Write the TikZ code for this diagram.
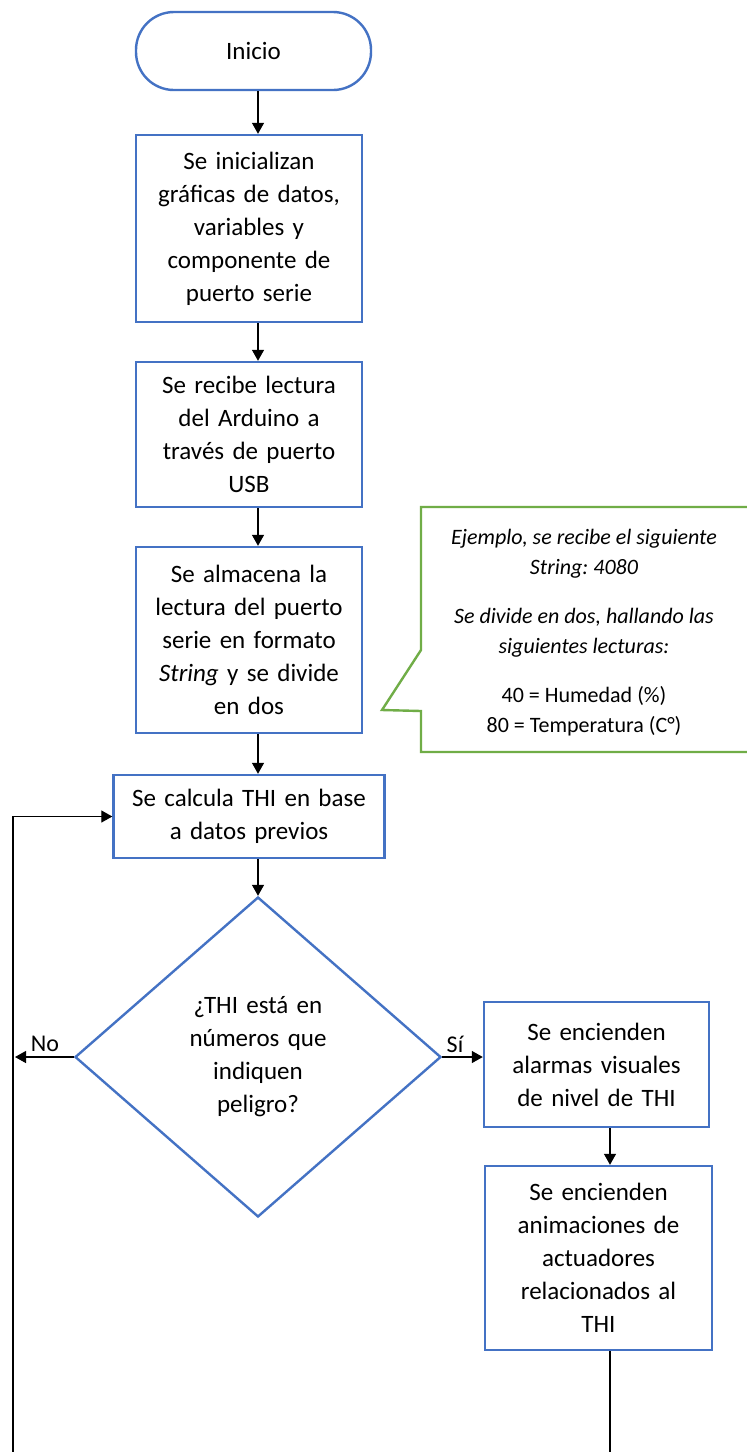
\documentclass[tikz,border=0pt]{standalone}
\usepackage{fontspec}
\setmainfont{Carlito}
\usetikzlibrary{arrows.meta,shapes.geometric}
\definecolor{boxblue}{HTML}{4472C4}
\definecolor{callgreen}{HTML}{70AD47}
\frenchspacing
\tikzset{
  box/.style={draw=boxblue, line width=2.4pt, fill=white, align=center, inner sep=0pt,
    font=\fontsize{25}{33}\selectfont, text width=#1},
  box/.default=200pt,
  arr/.style={line width=1.3pt, -{Triangle[length=11pt,width=12pt]}},
  plain/.style={line width=1.3pt},
  lbl/.style={font=\fontsize{24}{30}\selectfont, inner sep=0pt},
}
\begin{document}
\begin{tikzpicture}[x=1pt,y=-1pt]
\useasboundingbox[fill=white] (0,0) rectangle (747,1452);
\coordinate (colx) at (258,0);
\coordinate (rx) at (610,0);
\coordinate (bl) at (13,1452);

\node[box=200pt, rounded corners=38pt, minimum width=235pt, minimum height=78pt] (ini) at (253.5,51) {Inicio};
\node[box=210pt, minimum width=226pt, minimum height=187pt] (b1) at (249,228.5)
  {Se inicializan\\gráficas de datos,\\variables y\\componente de\\puerto serie};
\node[box=210pt, minimum width=226pt, minimum height=145pt] (b2) at (249,434.5)
  {Se recibe lectura\\del Arduino a\\través de puerto\\USB};
\node[box=210pt, minimum width=226pt, minimum height=186pt] (b3) at (249,640)
  {Se almacena la\\lectura del puerto\\serie en formato\\\textit{String} y se divide\\en dos};
\node[box=250pt, minimum width=271pt, minimum height=83pt] (b4) at (249,816.5)
  {Se calcula THI en base\\a datos previos};
\node[draw=boxblue, line width=2.4pt, shape=diamond, minimum width=366pt, minimum height=320pt,
  inner sep=0pt, align=center, text width=170pt, font=\fontsize{25}{33}\selectfont] (d) at (258,1057)
  {¿THI está en\\números que\\indiquen\\peligro?};
\node[box=210pt, minimum width=225pt, minimum height=125pt] (b5) at (596.5,1064.5)
  {Se encienden\\alarmas visuales\\de nivel de THI};
\node[box=210pt, minimum width=227pt, minimum height=184pt] (b6) at (598.5,1258)
  {Se encienden\\animaciones de\\actuadores\\relacionados al\\THI};

% callout
\coordinate (tip) at (382,710);
\draw[callgreen, line width=2.4pt, line join=miter]
  (760,507) -- (421,507) -- (421,650) -- (tip) -- (421,711) -- (421,752) -- (760,752);
\node[align=center, inner sep=0pt, font=\fontsize{22}{30}\selectfont] (call) at (584,633)
  {\textit{Ejemplo, se recibe el siguiente}\\\textit{String: 4080}\\[19pt]
   \textit{Se divide en dos, hallando las}\\\textit{siguientes lecturas:}\\[19pt]
   40 = Humedad (\%)\\80 = Temperatura (C°)};

% connectors
\draw[arr] (ini.south -| colx) -- (b1.north -| colx);
\draw[arr] (b1.south -| colx) -- (b2.north -| colx);
\draw[arr] (b2.south -| colx) -- (b3.north -| colx);
\draw[arr] (b3.south -| colx) -- (b4.north -| colx);
\draw[arr] (b4.south -| colx) -- (d.north);
\draw[arr] (d.east) -- (b5.west |- d.east);
\draw[arr] (d.west) -- ([xshift=2pt]d.west -| bl);
\draw[arr] (b5.south -| rx) -- (b6.north -| rx);
\draw[plain] (b6.south -| rx) -- (rx |- bl);
\draw[arr] (bl) |- (b4.west);

\node[lbl] (no) at (45,1044) {No};
\node[lbl] (si) at (455,1044) {Sí};
\end{tikzpicture}
\end{document}
